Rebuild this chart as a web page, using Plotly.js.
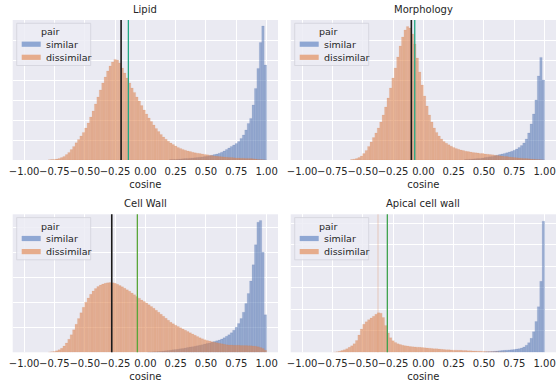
<!DOCTYPE html>
<html>
<head>
<meta charset="utf-8">
<script src="https://cdn.plot.ly/plotly-3.0.1.min.js"></script>
<style>html,body{margin:0;padding:0;background:#fff}#chart{width:556px;height:386px}</style>
</head>
<body>
<div id="chart"></div>
<script>
// ---- data (bin heights, bin width 0.02, bins end at 1.00) ----
const binWidth = 0.02;
const panelTitles = ["Lipid", "Morphology", "Cell Wall", "Apical cell wall"];
const legendTitle = "pair";
const seriesNames = ["similar", "dissimilar"];
const tickValues = [-1, -0.75, -0.5, -0.25, 0, 0.25, 0.5, 0.75, 1];
const tickLabels = ["\u22121.00", "\u22120.75", "\u22120.50", "\u22120.25", "0.00", "0.25", "0.50", "0.75", "1.00"];

const lipidSimilarStart = 0.21;
const lipidSimilar = [0.02,0.03,0.03,0.04,0.05,0.06,0.07,0.08,0.09,0.10,0.11,0.12,0.14,0.15,0.17,0.19,0.21,0.24,0.27,0.30,0.34,0.39,0.45,0.52,0.60,0.68,0.75,0.83,0.92,1.08,1.25,1.50,1.83,2.08,2.75,3.58,4.58,5.87,6.70,4.75];
const lipidDissimilarStart = -0.79;
const lipidDissimilar = [0.01,0.02,0.03,0.05,0.08,0.12,0.18,0.27,0.38,0.52,
  0.68,0.86,1.02,1.2,1.38,1.6,1.85,2.15,2.45,2.8,
  3.15,3.5,3.85,4.15,4.45,4.7,4.9,5.03,5.0,4.85,
  4.6,4.35,4.1,3.85,3.6,3.38,3.15,2.95,2.72,2.5,
  2.3,2.1,1.92,1.75,1.58,1.42,1.28,1.15,1.04,0.94,
  0.85,0.77,0.7,0.63,0.58,0.53,0.49,0.45,0.42,0.39,
  0.36,0.34,0.32,0.3,0.28,0.26,0.24,0.22,0.2,0.19,
  0.17,0.16,0.15,0.14,0.13,0.12,0.11,0.1,0.1,0.09,
  0.09,0.08,0.08,0.07,0.06,0.05,0.03,0.02,0.01,0.0];

const morphSimilarStart = 0.35;
const morphSimilar = [0.02,0.03,0.04,0.05,0.06,0.07,0.08,0.1,0.12,0.14,
  0.16,0.18,0.21,0.24,0.27,0.3,0.33,0.36,0.4,0.44,
  0.49,0.55,0.62,0.72,0.85,1.05,1.35,1.8,2.3,3.0,
  4.2,5.13,4.0];
const morphDissimilarStart = -0.59;
const morphDissimilar = [0.02,0.04,0.07,0.12,0.2,0.32,0.48,0.68,0.9,1.12,
  1.35,1.6,1.9,2.25,2.65,3.1,3.6,4.1,4.6,5.15,
  5.7,6.15,6.5,6.67,6.6,6.3,5.8,5.1,4.4,3.75,
  3.2,2.7,2.25,1.9,1.6,1.38,1.2,1.05,0.93,0.84,
  0.76,0.69,0.63,0.58,0.54,0.5,0.47,0.44,0.42,0.4,
  0.38,0.36,0.35,0.33,0.32,0.3,0.29,0.27,0.26,0.24,
  0.23,0.21,0.2,0.18,0.17,0.15,0.14,0.12,0.11,0.1,
  0.09,0.08,0.07,0.06,0.05,0.04,0.03,0.02,0.01,0.0];

const cellSimilarStart = 0.03;
const cellSimilar = [0.01,0.01,0.02,0.02,0.03,0.04,0.05,0.06,0.07,0.08,
  0.1,0.11,0.12,0.14,0.15,0.17,0.19,0.21,0.22,0.24,
  0.26,0.28,0.3,0.33,0.35,0.37,0.4,0.43,0.46,0.49,
  0.53,0.58,0.64,0.7,0.78,0.88,1.0,1.15,1.35,1.6,
  1.95,2.35,2.85,3.5,4.3,5.2,5.27,4.0,1.5];
const cellDissimilarStart = -0.79;
const cellDissimilar = [0.01,0.02,0.03,0.06,0.1,0.16,0.25,0.37,0.52,0.7,
  0.9,1.12,1.35,1.58,1.8,2.0,2.17,2.32,2.45,2.55,
  2.63,2.69,2.73,2.76,2.78,2.79,2.78,2.76,2.72,2.67,
  2.62,2.56,2.5,2.44,2.37,2.3,2.23,2.16,2.09,2.03,
  1.97,1.9,1.83,1.76,1.68,1.6,1.52,1.44,1.36,1.28,
  1.2,1.14,1.08,1.03,0.98,0.93,0.88,0.83,0.78,0.73,
  0.68,0.63,0.58,0.54,0.5,0.47,0.45,0.42,0.4,0.38,
  0.36,0.34,0.32,0.3,0.29,0.29,0.28,0.28,0.28,0.27,
  0.27,0.27,0.26,0.26,0.25,0.24,0.22,0.19,0.15,0.08];

const apicalSimilarStart = 0.51;
const apicalSimilar = [0.01,0.02,0.03,0.04,0.05,0.06,0.07,0.08,0.09,0.1,
  0.11,0.12,0.13,0.15,0.17,0.2,0.25,0.33,0.45,0.65,
  0.96,1.43,2.12,3.3,6.1];
const apicalDissimilarStart = -0.73;
const apicalDissimilar = [0.01,0.03,0.05,0.08,0.12,0.17,0.23,0.3,0.4,0.55,
  0.8,1.08,1.3,1.42,1.52,1.6,1.68,1.77,1.84,1.82,
  1.62,1.25,0.9,0.68,0.54,0.46,0.4,0.36,0.33,0.31,
  0.29,0.27,0.26,0.25,0.24,0.23,0.22,0.21,0.2,0.19,
  0.18,0.17,0.16,0.15,0.14,0.13,0.12,0.12,0.11,0.1,
  0.1,0.09,0.09,0.08,0.08,0.07,0.07,0.06,0.06,0.05,
  0.05,0.04,0.04,0.03,0.03,0.02,0.02,0.02,0.01,0.01,
  0.01];

// reference lines (cosine values)
const blackLines = [-0.20, -0.099, -0.277, null];
const greenLines = [-0.14, -0.071, -0.066, -0.297];
const faintLines = [null, null, null, -0.374];

// ---- build ----
function centers(start, n) { const c = []; for (let i = 0; i < n; i++) c.push(+(start + i * binWidth).toFixed(3)); return c; }

const panels = [
  {s: lipidSimilar, ss: lipidSimilarStart, d: lipidDissimilar, ds: lipidDissimilarStart},
  {s: morphSimilar, ss: morphSimilarStart, d: morphDissimilar, ds: morphDissimilarStart},
  {s: cellSimilar, ss: cellSimilarStart, d: cellDissimilar, ds: cellDissimilarStart},
  {s: apicalSimilar, ss: apicalSimilarStart, d: apicalDissimilar, ds: apicalDissimilarStart}
];
const gridUnitsRange = [7, 7, 5.52, 6.42];
const greenColors = ["#22a884", "#22a884", "#5aa63a", "#3fa34d"];

const W = 556, H = 386;
const xPx = [[12.7, 278], [290.7, 556]];
const yPx = [[20, 160], [214.3, 352.3]];
const xDom = xPx.map(a => [a[0] / W, a[1] / W]);
const yDom = yPx.map(a => [1 - a[1] / H, 1 - a[0] / H]);

const blueFill = "rgba(76,114,176,0.52)", orangeFill = "rgba(221,132,82,0.58)";
const blueSwatch = "#8fa7d3", orangeSwatch = "#e6ac8c";
const data = [], shapes = [], annotations = [];
const layout = {
  width: W, height: H, margin: {l: 0, r: 0, t: 0, b: 0},
  paper_bgcolor: "#ffffff", plot_bgcolor: "#EAEAF2",
  barmode: "overlay", bargap: 0, showlegend: false,
  font: {family: "DejaVu Sans", color: "#262626", size: 10}
};
const px = (x) => x / W, py = (y) => 1 - y / H;

panels.forEach((p, i) => {
  const ax = i === 0 ? "" : String(i + 1);
  const col = i % 2, row = Math.floor(i / 2);
  data.push({type: "bar", x: centers(p.ss, p.s.length), y: p.s, width: binWidth, name: seriesNames[0],
    xaxis: "x" + ax, yaxis: "y" + ax,
    marker: {color: blueFill, line: {color: "rgba(76,114,176,0.3)", width: 0.4}}, hoverinfo: "skip"});
  data.push({type: "bar", x: centers(p.ds, p.d.length), y: p.d, width: binWidth, name: seriesNames[1],
    xaxis: "x" + ax, yaxis: "y" + ax,
    marker: {color: orangeFill, line: {color: "rgba(221,132,82,0.3)", width: 0.4}}, hoverinfo: "skip"});

  layout["xaxis" + ax] = {domain: xDom[col], anchor: "y" + ax, range: [-1.094, 1.094],
    tickvals: tickValues, ticktext: tickLabels, tickangle: 0, ticklabeloverflow: "allow",
    showgrid: true, gridcolor: "#ffffff", gridwidth: 1,
    zeroline: false, showline: false, ticks: "", ticklabelstandoff: 4, tickfont: {size: 10, color: "#262626"},
    title: {text: "cosine", font: {size: 10, color: "#262626"}, standoff: 4}};
  layout["yaxis" + ax] = {domain: yDom[row], anchor: "x" + ax, range: [0, gridUnitsRange[i]], dtick: 1,
    showticklabels: false, showgrid: true, gridcolor: "#ffffff", gridwidth: 1, zeroline: false, ticks: ""};

  const xr = "x" + ax, yr = "y" + ax + " domain";
  if (faintLines[i] !== null) shapes.push({type: "line", xref: xr, yref: yr, x0: faintLines[i], x1: faintLines[i], y0: 0, y1: 1, line: {color: "rgba(221,132,82,0.35)", width: 1}});
  if (blackLines[i] !== null) shapes.push({type: "line", xref: xr, yref: yr, x0: blackLines[i], x1: blackLines[i], y0: 0, y1: 1, line: {color: "#1a1a1a", width: 1.6}});
  if (greenLines[i] !== null) shapes.push({type: "line", xref: xr, yref: yr, x0: greenLines[i], x1: greenLines[i], y0: 0, y1: 1, line: {color: greenColors[i], width: 1.3}});

  annotations.push({text: panelTitles[i], xref: "paper", yref: "paper",
    x: (xDom[col][0] + xDom[col][1]) / 2, y: py(yPx[row][0] - 3), xanchor: "center", yanchor: "bottom",
    showarrow: false, font: {size: 10, color: "#262626"}});

  // legend box (drawn in paper space)
  const L = xPx[col][0], T = yPx[row][0];
  shapes.push({type: "rect", xref: "paper", yref: "paper", layer: "above",
    x0: px(L + 4), x1: px(L + 78), y0: py(T + 3.3), y1: py(T + 45.5),
    fillcolor: "rgba(236,236,244,0.85)", line: {color: "#d2d2da", width: 0.8}});
  annotations.push({text: legendTitle, xref: "paper", yref: "paper", x: px(L + 37.5), y: py(T + 11.8),
    xanchor: "center", yanchor: "middle", showarrow: false, font: {size: 9.5, color: "#262626"}});
  [[seriesNames[0], blueSwatch, 24.2], [seriesNames[1], orangeSwatch, 37.3]].forEach(([nm, c, cy]) => {
    shapes.push({type: "rect", xref: "paper", yref: "paper", layer: "above",
      x0: px(L + 9), x1: px(L + 28), y0: py(T + cy + 2.6), y1: py(T + cy - 2.6),
      fillcolor: c, line: {width: 0}});
    annotations.push({text: nm, xref: "paper", yref: "paper", x: px(L + 31.5), y: py(T + cy),
      xanchor: "left", yanchor: "middle", showarrow: false, font: {size: 9.5, color: "#262626"}});
  });
});
layout.shapes = shapes;
layout.annotations = annotations;

Plotly.newPlot("chart", data, layout, {staticPlot: true, displayModeBar: false});
</script>
</body>
</html>
